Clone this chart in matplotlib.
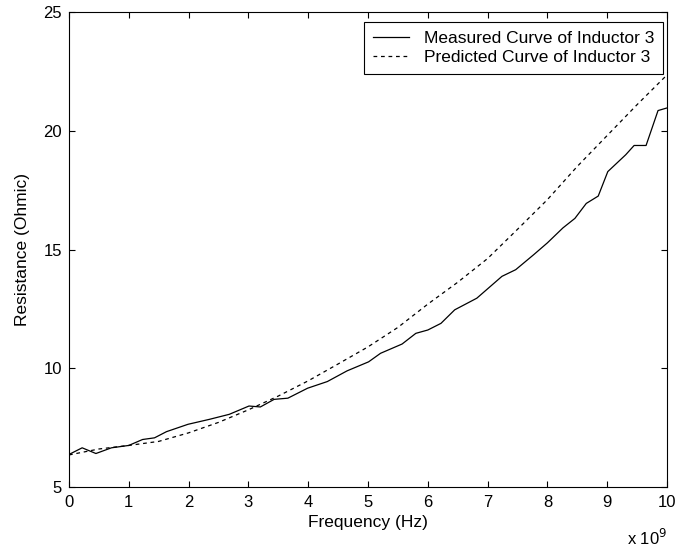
import numpy as np
import matplotlib
matplotlib.use('Agg')
import matplotlib.pyplot as plt
from matplotlib.ticker import FuncFormatter

# frequency in units of 1e9 Hz
meas_freq = [0.0, 0.22, 0.45, 0.71, 1.0, 1.23, 1.43, 1.63, 1.99, 2.35, 2.68,
             3.01, 3.2, 3.43, 3.66, 3.99, 4.32, 4.65, 5.01, 5.21, 5.57, 5.8,
             6.0, 6.22, 6.45, 6.82, 7.24, 7.47, 7.77, 8.0, 8.26, 8.46, 8.65,
             8.85, 9.01, 9.31, 9.45, 9.65, 9.85, 10.0]
meas_res = [6.37, 6.65, 6.41, 6.65, 6.75, 7.0, 7.07, 7.33, 7.64, 7.85, 8.06,
            8.41, 8.37, 8.69, 8.74, 9.16, 9.44, 9.89, 10.27, 10.63, 11.02, 11.47,
            11.61, 11.89, 12.46, 12.95, 13.87, 14.15, 14.78, 15.28, 15.91, 16.31, 16.94,
            17.25, 18.28, 18.99, 19.38, 19.38, 20.85, 20.96]

pred_freq = [0.0, 0.5, 1.0, 1.5, 2.0, 2.5, 3.0, 3.5, 4.0, 4.5, 5.0,
             5.5, 6.0, 6.5, 7.0, 7.5, 8.0, 8.5, 9.0, 9.5, 10.0]
pred_res = [6.35, 6.6, 6.75, 6.92, 7.28, 7.72, 8.25, 8.83, 9.47, 10.18, 10.9,
            11.72, 12.7, 13.62, 14.62, 15.85, 17.1, 18.5, 19.8, 21.1, 22.35]

plt.rcParams['font.family'] = ['Liberation Sans', 'DejaVu Sans']
plt.rcParams['font.size'] = 12.5

fig = plt.figure(figsize=(6.78, 5.52), dpi=100)
ax = fig.add_axes([69 / 678, 1 - 487 / 552, 598 / 678, 475 / 552])

ax.plot(meas_freq, meas_res, color='black', linewidth=0.9,
        label='Measured Curve of Inductor 3')
ax.plot(pred_freq, pred_res, color='black', linewidth=0.9,
        linestyle=(0, (3, 3)), label='Predicted Curve of Inductor 3')

ax.set_xlim(0, 10)
ax.set_ylim(5, 25)
ax.set_xticks(np.arange(0, 11, 1))
ax.set_yticks([5, 10, 15, 20, 25])
ax.xaxis.set_major_formatter(FuncFormatter(lambda v, p: '%d' % v))
ax.tick_params(direction='in', top=True, right=True, length=4, width=0.8,
               labelsize=12)
ax.tick_params(axis='x', pad=6)
ax.tick_params(axis='y', pad=5)
for s in ax.spines.values():
    s.set_linewidth(0.8)

ax.set_xlabel('Frequency (Hz)', fontsize=12.5)
ax.xaxis.label.set_verticalalignment('center')
ax.xaxis.set_label_coords(0.5, -0.0737)
ax.set_ylabel('Resistance (Ohmic)', fontsize=12.5)
ax.yaxis.label.set_verticalalignment('center')
ax.yaxis.set_label_coords(-0.0774, 0.5)
ax.text(1.0, -0.107, 'x 10$^9$', transform=ax.transAxes, ha='right',
        va='center', fontsize=12)

leg = ax.legend(loc='upper right', bbox_to_anchor=(0.9933, 0.979),
                fancybox=False, edgecolor='black', framealpha=1,
                borderaxespad=0, borderpad=0.5, labelspacing=0.25,
                handlelength=2.1, handletextpad=0.85, fontsize=12.5)
leg.get_frame().set_linewidth(0.8)

fig.savefig('out.png', dpi=100)
